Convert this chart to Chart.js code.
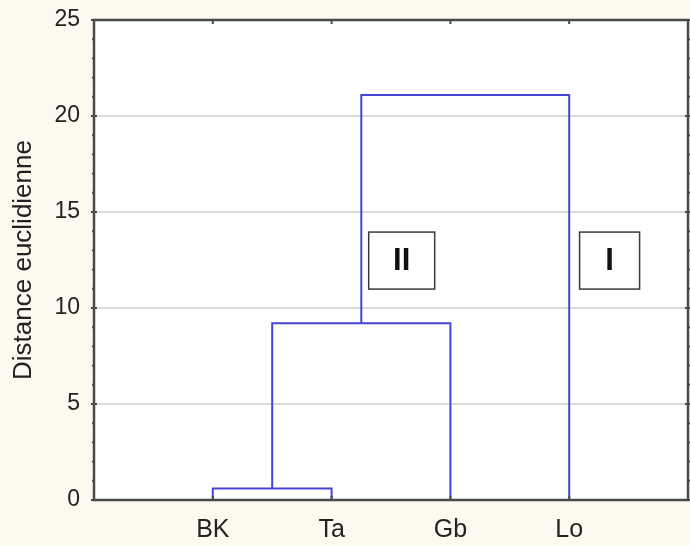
<!DOCTYPE html>
<html>
<head>
<meta charset="utf-8">
<script src="https://cdn.jsdelivr.net/npm/chart.js@4.4.1/dist/chart.umd.min.js"></script>
<style>
html, body { margin: 0; padding: 0; background: #fdf9ef; }
canvas { display: block; }
</style>
</head>
<body>
<canvas id="myChart" width="690" height="546"></canvas>
<script>
// leaves of the dendrogram, in drawing order
var leaves = ['BK', 'Ta', 'Gb', 'Lo'];
// merges: node ids 0-3 are leaves, each merge creates node 4, 5, 6 ...
var mergeLeft = [0, 4, 5];
var mergeRight = [1, 2, 3];
var mergeHeights = [0.6, 9.2, 21.1];
var yTicks = [0, 5, 10, 15, 20, 25];
var clusterLabels = ['II', 'I'];

var FONT = '"Liberation Sans", Arial, sans-serif';
var LINE = '#4646d6';
var FRAME = '#4a4a4a';
var TEXT = '#222222';

// build node positions and one U-shaped link per merge
var nodeX = [], nodeY = [];
for (var i = 0; i < leaves.length; i++) { nodeX.push(i + 1); nodeY.push(0); }
var datasets = [];
for (var k = 0; k < mergeHeights.length; k++) {
    var a = mergeLeft[k], b = mergeRight[k], h = mergeHeights[k];
    datasets.push({
        data: [
            {x: nodeX[a], y: nodeY[a]},
            {x: nodeX[a], y: h},
            {x: nodeX[b], y: h},
            {x: nodeX[b], y: nodeY[b]}
        ],
        showLine: true,
        borderColor: LINE,
        borderWidth: 2,
        pointRadius: 0,
        tension: 0,
        fill: false
    });
    nodeX.push((nodeX[a] + nodeX[b]) / 2);
    nodeY.push(h);
}

// cream page, white plot, frame and small tick marks
var framePlugin = {
    id: 'frame',
    beforeDraw: function(chart) {
        var c = chart.ctx, a = chart.chartArea;
        c.save();
        c.fillStyle = '#fdf9ef';
        c.fillRect(0, 0, chart.width, chart.height);
        c.fillStyle = '#ffffff';
        c.fillRect(a.left, a.top, a.right - a.left, a.bottom - a.top);
        c.restore();
    },
    afterDatasetsDraw: function(chart) {
        var c = chart.ctx, a = chart.chartArea;
        var ys = chart.scales.y, xs = chart.scales.x;
        c.save();
        c.strokeStyle = FRAME;
        c.lineWidth = 2.5;
        c.strokeRect(a.left, a.top, a.right - a.left, a.bottom - a.top);
        c.lineWidth = 2;
        for (var v = 0; v <= 25; v++) {
            var y = ys.getPixelForValue(v);
            var big = v % 5 == 0;
            c.beginPath();
            c.moveTo(a.left - (big ? 3 : 2), y);
            c.lineTo(a.left + (big ? 3 : 1), y);
            c.moveTo(a.right + (big ? 3 : 2), y);
            c.lineTo(a.right - (big ? 3 : 1), y);
            c.stroke();
        }
        for (var j = 0; j < leaves.length; j++) {
            var x = xs.getPixelForValue(j + 1);
            c.beginPath();
            c.moveTo(x, a.top - 1);
            c.lineTo(x, a.top + 4);
            c.moveTo(x, a.bottom + 1);
            c.lineTo(x, a.bottom - 4);
            c.stroke();
        }

        // boxed cluster labels
        var spots = [{x: 2.59, y: 12.47, w: 66}, {x: 4.34, y: 12.47, w: 60}];
        for (var n = 0; n < clusterLabels.length; n++) {
            var cx = xs.getPixelForValue(spots[n].x);
            var cy = ys.getPixelForValue(spots[n].y);
            var w = spots[n].w, hgt = 57;
            c.fillStyle = '#ffffff';
            c.fillRect(cx - w / 2, cy - hgt / 2, w, hgt);
            c.strokeStyle = '#3a3a3a';
            c.lineWidth = 1.5;
            c.strokeRect(cx - w / 2, cy - hgt / 2, w, hgt);
            c.fillStyle = '#111111';
            c.font = 'bold 31px ' + FONT;
            c.textAlign = 'center';
            c.textBaseline = 'middle';
            c.fillText(clusterLabels[n], cx, cy + 1);
        }
        c.restore();
    }
};

var ctx = document.getElementById('myChart').getContext('2d');
var chart = new Chart(ctx, {
    type: 'scatter',
    data: { datasets: datasets },
    options: {
        responsive: false,
        animation: false,
        layout: { padding: { top: 20, right: 2, left: 0, bottom: 0 } },
        plugins: { legend: { display: false }, tooltip: { enabled: false } },
        scales: {
            x: {
                type: 'linear',
                min: 0,
                max: leaves.length + 1,
                afterFit: function(s) { s.height = 46; s.paddingLeft = 0; s.paddingRight = 0; },
                afterBuildTicks: function(s) {
                    s.ticks = leaves.map(function(l, i) { return {value: i + 1}; });
                },
                ticks: {
                    autoSkip: false,
                    maxRotation: 0,
                    padding: 15,
                    color: TEXT,
                    font: { family: FONT, size: 25 },
                    callback: function(v) { return leaves[v - 1] || ''; }
                },
                grid: { display: false, drawTicks: false },
                border: { display: false }
            },
            y: {
                min: 0,
                max: 25,
                afterFit: function(s) { s.width = 94; s.paddingTop = 0; s.paddingBottom = 0; },
                afterBuildTicks: function(s) {
                    s.ticks = yTicks.map(function(v) { return {value: v}; });
                },
                ticks: {
                    padding: 14,
                    color: TEXT,
                    font: { family: FONT, size: 23 }
                },
                grid: {
                    drawTicks: false,
                    lineWidth: 2,
                    color: function(c) {
                        var v = c.tick && c.tick.value;
                        return (v == 0 || v == 25) ? 'rgba(0,0,0,0)' : '#d9d9d9';
                    }
                },
                border: { display: false },
                title: {
                    display: true,
                    text: 'Distance euclidienne',
                    color: TEXT,
                    font: { family: FONT, size: 26 },
                    padding: { top: 8, bottom: 0 }
                }
            }
        }
    },
    plugins: [framePlugin]
});
</script>
</body>
</html>
